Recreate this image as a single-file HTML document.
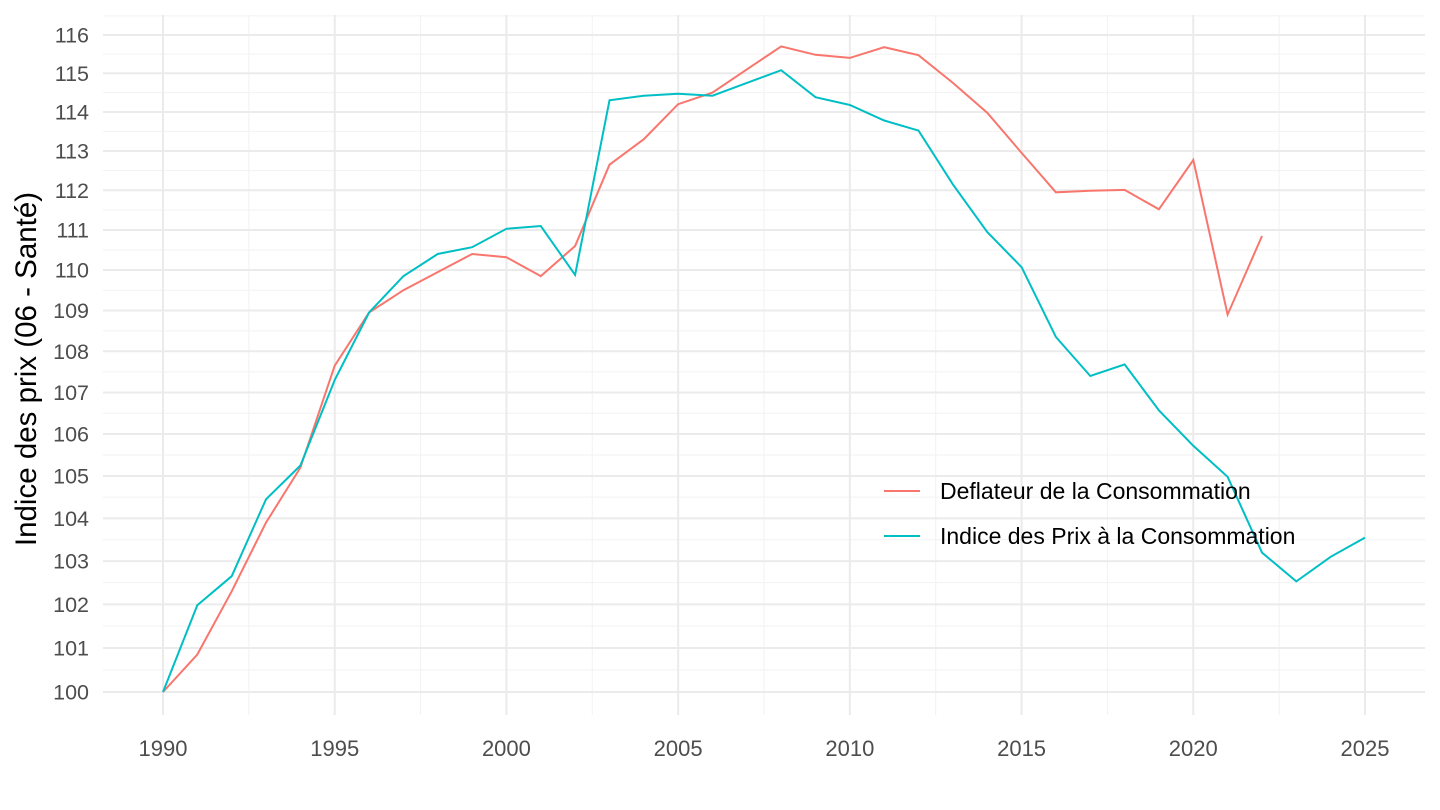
<!DOCTYPE html>
<html><head><meta charset="utf-8"><style>
body{margin:0;background:#fff}
svg{display:block;font-family:"Liberation Sans",Arial,sans-serif}
</style></head><body>
<svg id="s" width="1440" height="810" xmlns="http://www.w3.org/2000/svg"></svg>
<script>
const s=document.getElementById('s');
const X=y=>163+(y-1990)*(1202/35);
const Y=v=>692-Math.log(v/100)*4427;
let h='';
const L=103,R=1425,T=15,B=715;
for(let v=100.5;v<116.6;v+=1)h+=`<line x1="${L}" x2="${R}" y1="${Y(v)}" y2="${Y(v)}" stroke="#f2f2f2" stroke-width="1"/>`;
for(let y=1992.5;y<2030;y+=5)h+=`<line x1="${X(y)}" x2="${X(y)}" y1="${T}" y2="${B}" stroke="#f2f2f2" stroke-width="1"/>`;
for(let v=100;v<=116;v++){h+=`<line x1="${L}" x2="${R}" y1="${Y(v)}" y2="${Y(v)}" stroke="#ebebeb" stroke-width="2"/>`;
h+=`<text x="89" y="${Y(v)+7.5}" text-anchor="end" font-size="21.5" fill="#4d4d4d">${v}</text>`;}
for(let y=1990;y<=2025;y+=5){h+=`<line x1="${X(y)}" x2="${X(y)}" y1="${T}" y2="${B}" stroke="#ebebeb" stroke-width="2"/>`;
h+=`<text x="${X(y)}" y="756" text-anchor="middle" font-size="22" fill="#4d4d4d">${y}</text>`;}
const red=[100,100.85,102.3,103.9,105.2,107.65,108.95,109.5,109.95,110.4,110.32,109.85,110.6,112.65,113.3,114.2,114.5,115.1,115.7,115.48,115.4,115.68,115.47,114.75,113.98,112.95,111.95,111.99,112.01,111.52,112.77,108.9,110.85];
const teal=[100,101.98,102.65,104.45,105.25,107.3,108.95,109.85,110.4,110.57,111.03,111.1,109.88,114.3,114.42,114.47,114.42,114.75,115.08,114.38,114.18,113.78,113.52,112.15,110.95,110.07,108.35,107.4,107.68,106.57,105.72,104.98,103.2,102.53,103.1,103.55];
const pl=(d,c)=>`<polyline fill="none" stroke="${c}" stroke-width="2" points="${d.map((v,i)=>X(1990+i).toFixed(1)+','+Y(v).toFixed(1)).join(' ')}"/>`;
h+=pl(red,'#F8766D')+pl(teal,'#00BFC4');
h+=`<text transform="translate(36,369) rotate(-90)" text-anchor="middle" font-size="29.5" fill="#000">Indice des prix (06 - Santé)</text>`;
h+=`<line x1="884" x2="920" y1="491" y2="491" stroke="#F8766D" stroke-width="2"/><text x="940" y="499" font-size="23" fill="#000">Deflateur de la Consommation</text>`;
h+=`<line x1="884" x2="920" y1="536" y2="536" stroke="#00BFC4" stroke-width="2"/><text x="940" y="544" font-size="23" fill="#000">Indice des Prix à la Consommation</text>`;
s.innerHTML=h;
</script>
</body></html>
